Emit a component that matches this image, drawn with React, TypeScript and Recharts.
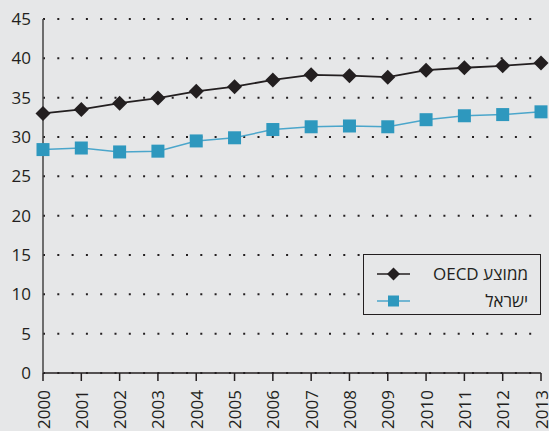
import React from "react";
import { LineChart, Line, XAxis, YAxis, CartesianGrid, Legend } from "recharts";

const years = ["2000", "2001", "2002", "2003", "2004", "2005", "2006", "2007", "2008", "2009", "2010", "2011", "2012", "2013"];
const oecd = [33.0, 33.5, 34.3, 34.95, 35.8, 36.4, 37.25, 37.9, 37.8, 37.6, 38.5, 38.8, 39.05, 39.4];
const israel = [28.4, 28.6, 28.1, 28.2, 29.5, 29.9, 30.95, 31.3, 31.4, 31.3, 32.2, 32.7, 32.85, 33.2];
const yTicks = [0, 5, 10, 15, 20, 25, 30, 35, 40, 45];
const seriesNames = { oecd: "ממוצע OECD", israel: "ישראל" };

const data = years.map((y, i) => ({ year: y, oecd: oecd[i], israel: israel[i] }));

const BG = "#e6e7e8";
const DARK = "#231f20";
const BLUE = "#2e98be";
const BLUE_LINE = "#4ba6cb";
const FONT = "'Open Sans', 'DejaVu Sans', sans-serif";

const Diamond = (props: any) => {
  const { cx, cy } = props;
  if (cx == null || cy == null) return null;
  const r = 7.5;
  return <path d={`M${cx},${cy - r}L${cx + r},${cy}L${cx},${cy + r}L${cx - r},${cy}Z`} fill={DARK} />;
};

const Square = (props: any) => {
  const { cx, cy } = props;
  if (cx == null || cy == null) return null;
  const r = 6.5;
  return <rect x={cx - r} y={cy - r} width={2 * r} height={2 * r} fill={BLUE} />;
};

const XTick = (props: any) => {
  const { x, y, payload } = props;
  return (
    <text
      x={x}
      y={y}
      transform={`rotate(-90, ${x}, ${y})`}
      textAnchor="end"
      dominantBaseline="central"
      fontSize={17}
      fontFamily={FONT}
      fill={DARK}
    >
      {payload.value}
    </text>
  );
};

const LegendContent = () => (
  <div
    style={{
      width: 178,
      height: 61,
      boxSizing: "border-box",
      border: `1.5px solid ${DARK}`,
      background: BG,
      fontFamily: FONT,
      fontSize: 17,
      color: DARK,
      position: "relative",
    }}
  >
    {[
      { name: seriesNames.oecd, kind: "d", top: 19 },
      { name: seriesNames.israel, kind: "s", top: 46 },
    ].map((r) => (
      <div key={r.kind} style={{ position: "absolute", left: 0, right: 0, top: r.top - 12, height: 24 }}>
        <svg width={40} height={24} style={{ position: "absolute", left: 12, top: 0 }}>
          <line x1={1} y1={12} x2={34} y2={12} stroke={r.kind === "d" ? DARK : BLUE_LINE} strokeWidth={1.5} />
          {r.kind === "d" ? (
            <path d="M17.5,5.5L24,12L17.5,18.5L11,12Z" fill={DARK} />
          ) : (
            <rect x={12} y={6.5} width={11} height={11} fill={BLUE} />
          )}
        </svg>
        <div
          style={{
            position: "absolute",
            right: 12,
            top: 0,
            lineHeight: "24px",
            direction: "rtl",
            textAlign: "right",
            whiteSpace: "nowrap",
          }}
        >
          {r.name}
        </div>
      </div>
    ))}
  </div>
);

export default function App() {
  return (
    <div style={{ position: "absolute", left: 0, top: 0, width: 549, height: 431, background: BG, overflow: "hidden" }}>
      <LineChart width={549} height={431} data={data} margin={{ top: 19, right: 8, left: 0, bottom: 0 }}>
        <CartesianGrid vertical={false} stroke={DARK} strokeWidth={2} strokeDasharray="2 12.3" />
        <XAxis
          dataKey="year"
          height={58}
          interval={0}
          padding={{ left: 0, right: 0 }}
          axisLine={{ stroke: DARK, strokeWidth: 1.5 }}
          tickLine={{ stroke: DARK, strokeWidth: 1.5 }}
          tickSize={8}
          tickMargin={9}
          tick={<XTick />}
        />
        <YAxis
          domain={[0, 45]}
          ticks={yTicks}
          width={43}
          interval={0}
          axisLine={{ stroke: "#444", strokeWidth: 1.5 }}
          tickLine={false}
          tickSize={6}
          tickMargin={6}
          tick={{ fontSize: 17, fontFamily: FONT, fill: DARK }}
        />
        <Legend
          layout="horizontal"
          verticalAlign="middle"
          align="center"
          content={<LegendContent />}
          wrapperStyle={{ left: 363, top: 254, width: 178, height: 61 }}
        />
        <Line
          type="linear"
          dataKey="israel"
          name={seriesNames.israel}
          stroke={BLUE_LINE}
          strokeWidth={1.5}
          dot={<Square />}
          isAnimationActive={false}
        />
        <Line
          type="linear"
          dataKey="oecd"
          name={seriesNames.oecd}
          stroke={DARK}
          strokeWidth={1.8}
          dot={<Diamond />}
          isAnimationActive={false}
        />
      </LineChart>
    </div>
  );
}
